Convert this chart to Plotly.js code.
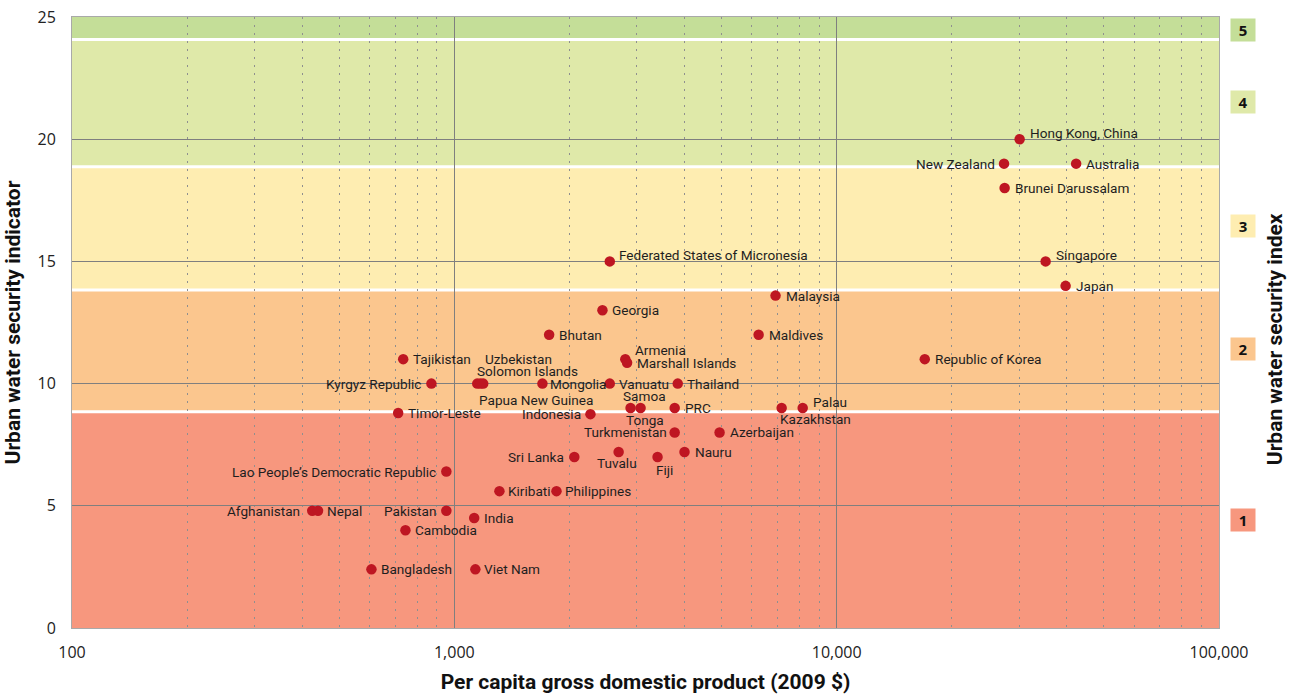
<!DOCTYPE html>
<html>
<head>
<meta charset="utf-8">
<script src="https://cdn.plot.ly/plotly-3.0.1.min.js"></script>
<style>html,body{margin:0;padding:0;background:#fff;}#chart{width:1297px;height:694px;}</style>
</head>
<body>
<div id="chart"></div>
<script>
// ---- data ----
const countries = ["Hong Kong, China","New Zealand","Australia","Brunei Darussalam","Singapore","Japan",
  "Federated States of Micronesia","Malaysia","Georgia","Bhutan","Maldives","Tajikistan","Armenia",
  "Marshall Islands","Republic of Korea","Kyrgyz Republic","Uzbekistan","Solomon Islands","Papua New Guinea",
  "Mongolia","Vanuatu","Thailand","Samoa","Tonga","PRC","Kazakhstan","Palau","Timor-Leste","Indonesia",
  "Turkmenistan","Azerbaijan","Sri Lanka","Tuvalu","Fiji","Nauru","Lao People\u2019s Democratic Republic",
  "Kiribati","Philippines","Afghanistan","Nepal","Pakistan","India","Cambodia","Bangladesh","Viet Nam"];
const gdpPerCapita = [30100,27400,42300,27500,35200,39700,
  2550,6920,2440,1770,6250,735,2800,
  2830,17000,871,1148,1190,1170,
  1700,2550,3840,2890,3070,3770,7180,8150,713,2270,
  3770,4940,2060,2690,3400,4000,953,
  1312,1850,425,440,953,1127,745,607,1135];
const indicator = [20,19,19,18,15,14,
  15,13.6,13,12,12,11,11,
  10.85,11,10,10,10,10,
  10,10,10,9,9,9,9,9,8.8,8.75,
  8,8,7,7.2,7,7.2,6.4,
  5.6,5.6,4.8,4.8,4.8,4.5,4,2.4,2.4];
const bandLimits = [0, 8.85, 13.83, 18.87, 24.08, 25];
const indexLabels = ["1","2","3","4","5"];
const indexLabelY = [4.42, 11.42, 16.45, 21.52, 24.47];
const xTickVals = [100, 1000, 10000, 100000];
const xTickText = ["100","1,000","10,000","100,000"];
const yTickVals = [0,5,10,15,20,25];

// ---- styling ----
const bandColors = ["#F7977E","#FBC68E","#FEEDB1","#DFE9A9","#C4DE98"];
// label placement: [xanchor, xshift, yshift]
const labelStyle = {
  "Hong Kong, China":["left",8,6], "New Zealand":["right",-7,0], "Australia":["left",8,0],
  "Brunei Darussalam":["left",8,0], "Singapore":["left",8,6], "Japan":["left",8,0],
  "Federated States of Micronesia":["left",7,6], "Malaysia":["left",8,0], "Georgia":["left",8,0],
  "Bhutan":["left",8,0], "Maldives":["left",8,0], "Tajikistan":["left",8,0], "Armenia":["left",8,9],
  "Marshall Islands":["left",8,0], "Republic of Korea":["left",8,0], "Kyrgyz Republic":["right",-8,0],
  "Uzbekistan":["left",6,25], "Solomon Islands":["left",-8,13], "Papua New Guinea":["left",-3,-16],
  "Mongolia":["left",6,0], "Vanuatu":["left",7,0], "Thailand":["left",7,0], "Samoa":["center",14,12],
  "Tonga":["center",4,-12], "PRC":["left",8,0], "Kazakhstan":["left",-4,-11], "Palau":["left",8,6],
  "Timor-Leste":["left",8,0], "Indonesia":["right",-7,0], "Turkmenistan":["right",-6,0],
  "Azerbaijan":["left",8,0], "Sri Lanka":["right",-8,0], "Tuvalu":["center",-2,-11], "Fiji":["center",7,-13],
  "Nauru":["left",8,0], "Lao People\u2019s Democratic Republic":["right",-8,0], "Kiribati":["left",7,0],
  "Philippines":["left",7,0], "Afghanistan":["right",-10,0], "Nepal":["left",7,0], "Pakistan":["right",-8,0],
  "India":["left",8,0], "Cambodia":["left",8,0], "Bangladesh":["left",8,0], "Viet Nam":["left",7,0]
};

const shapes = [];
for (let i = 0; i < bandColors.length; i++) {
  shapes.push({type:"rect", xref:"paper", yref:"y", x0:0, x1:1, y0:bandLimits[i], y1:bandLimits[i+1],
    fillcolor:bandColors[i], line:{width:0}, layer:"below"});
}
for (let i = 1; i < bandLimits.length - 1; i++) {
  shapes.push({type:"line", xref:"paper", yref:"y", x0:0, x1:1, y0:bandLimits[i], y1:bandLimits[i],
    line:{color:"#ffffff", width:3}, layer:"below"});
}

const labelFont = {family:"Roboto, 'Open Sans', sans-serif", size:13.6, color:"#1e1e1e"};
const titleFont = {family:"Roboto, sans-serif", size:21, color:"#111"};

const annotations = countries.map((c, i) => {
  const s = labelStyle[c] || ["left",8,0];
  return {x:Math.log10(gdpPerCapita[i]), y:indicator[i], xref:"x", yref:"y", text:c, showarrow:false,
    xanchor:s[0], yanchor:"middle", xshift:s[1], yshift:s[2], font:labelFont};
});
indexLabels.forEach((t, i) => {
  annotations.push({x:1.021, xref:"paper", y:indexLabelY[i], yref:"y", text:"<b>"+t+"</b>", showarrow:false,
    bgcolor:bandColors[i], width:22, height:20, xanchor:"center", yanchor:"middle",
    font:{family:"'Open Sans', sans-serif", size:15, color:"#111"}});
});
annotations.push({x:1.049, xref:"paper", y:0.473, yref:"paper", text:"<b>Urban water security index</b>",
  textangle:-90, showarrow:false, xanchor:"center", yanchor:"middle", font:titleFont});

const trace = {x:gdpPerCapita, y:indicator, text:countries, type:"scatter", mode:"markers",
  marker:{color:"#BE1622", size:10.5}, hoverinfo:"text"};

const layout = {
  width:1297, height:694,
  margin:{l:72, r:78, t:17, b:66},
  paper_bgcolor:"#ffffff", plot_bgcolor:"rgba(0,0,0,0)",
  showlegend:false,
  xaxis:{type:"log", range:[2,5], tickvals:xTickVals, ticktext:xTickText,
    showgrid:true, gridcolor:"#7f7f7f", gridwidth:1,
    minor:{dtick:"D1", showgrid:true, gridcolor:"#8f8f8f", griddash:"2px,6px", gridwidth:1, ticks:""},
    showline:true, mirror:true, linecolor:"#a9a9a9", linewidth:1, zeroline:false,
    ticks:"outside", ticklen:10, tickcolor:"rgba(0,0,0,0)",
    tickfont:{family:"'Open Sans', sans-serif", size:16, color:"#222"},
    title:{text:"<b>Per capita gross domestic product (2009 $)</b>", standoff:13, font:titleFont}},
  yaxis:{range:[0,25], tickvals:yTickVals, showgrid:true, gridcolor:"#7f7f7f", gridwidth:1,
    showline:true, mirror:true, linecolor:"#a9a9a9", linewidth:1, zeroline:false,
    ticks:"outside", ticklen:12, tickcolor:"rgba(0,0,0,0)",
    tickfont:{family:"'Open Sans', sans-serif", size:16, color:"#222"},
    title:{text:"<b>Urban water security indicator</b>", standoff:11, font:titleFont}},
  shapes:shapes,
  annotations:annotations
};

Plotly.newPlot("chart", [trace], layout, {displayModeBar:false, staticPlot:true});
</script>
</body>
</html>
